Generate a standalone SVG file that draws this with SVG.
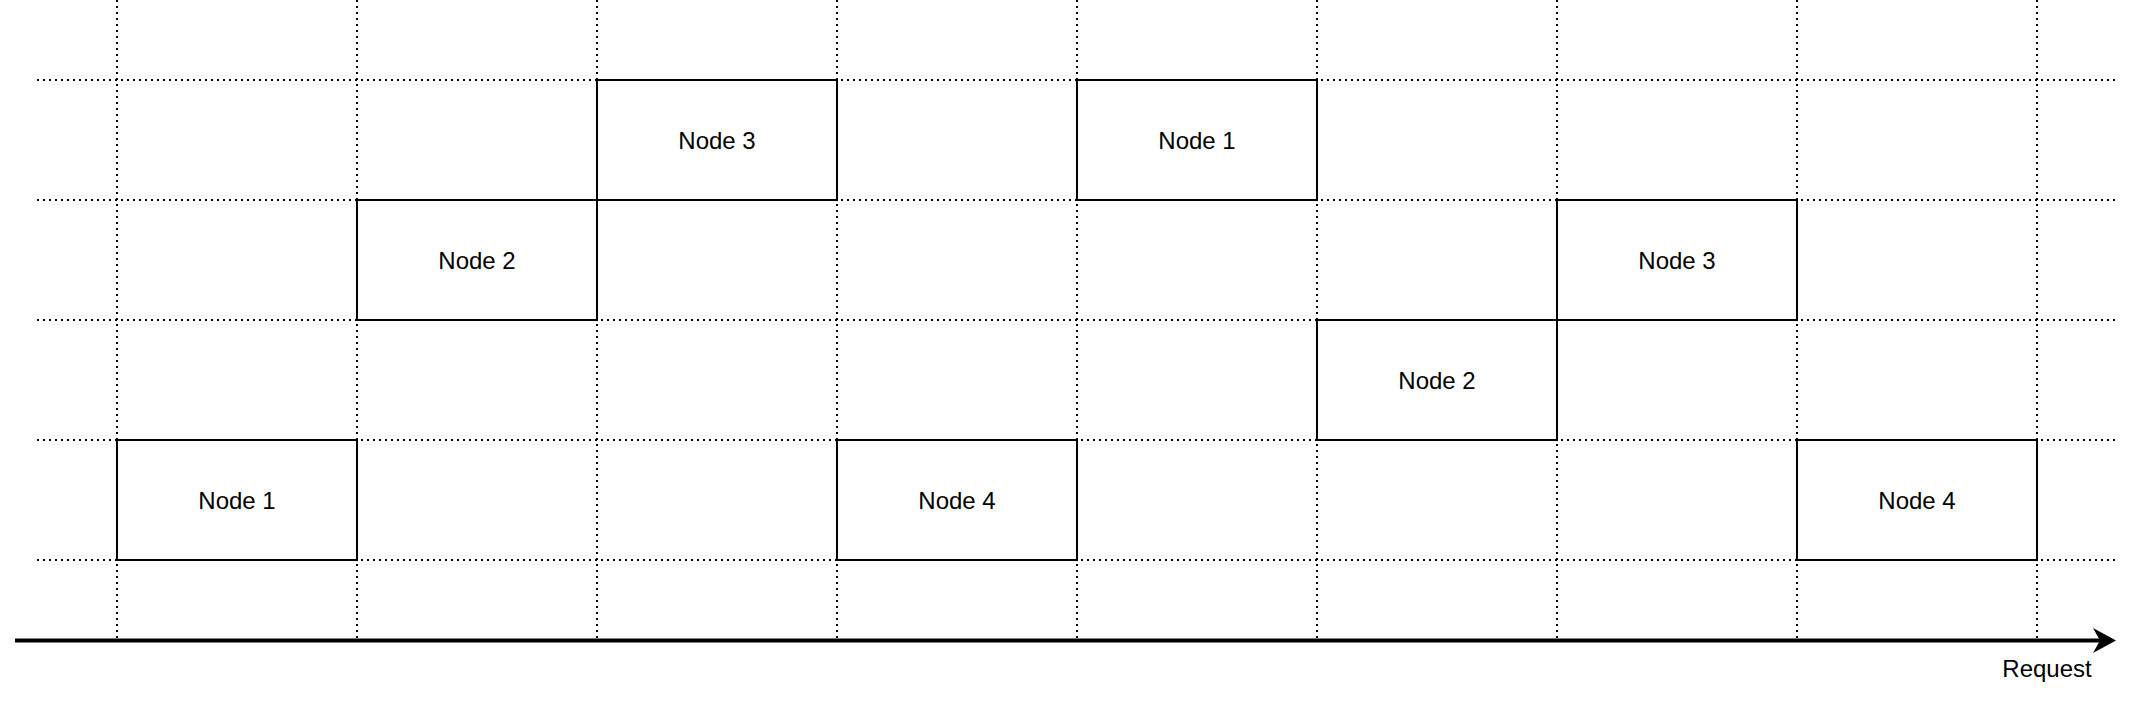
<svg xmlns="http://www.w3.org/2000/svg" width="2136" height="702" viewBox="0 0 2136 702">
<style>
.grid{stroke:#000;stroke-width:2;stroke-dasharray:2 4;fill:none}
.box{fill:#fff;stroke:#000;stroke-width:2}
.lbl{font-family:"Liberation Sans",Arial,sans-serif;font-size:24px;fill:#000;text-anchor:middle}
</style>
<defs>
<marker id="arr" markerUnits="userSpaceOnUse" markerWidth="30" markerHeight="30" refX="8" refY="12.5" orient="auto" viewBox="0 0 30 30">
<path d="M0,0 L23,12.5 L0,25 L7,12.5 Z" fill="#000"/>
</marker>
</defs>
<g id="grid">
<line class="grid" x1="117" y1="0" x2="117" y2="640"/>
<line class="grid" x1="357" y1="0" x2="357" y2="640"/>
<line class="grid" x1="597" y1="0" x2="597" y2="640"/>
<line class="grid" x1="837" y1="0" x2="837" y2="640"/>
<line class="grid" x1="1077" y1="0" x2="1077" y2="640"/>
<line class="grid" x1="1317" y1="0" x2="1317" y2="640"/>
<line class="grid" x1="1557" y1="0" x2="1557" y2="640"/>
<line class="grid" x1="1797" y1="0" x2="1797" y2="640"/>
<line class="grid" x1="2037" y1="0" x2="2037" y2="640"/>
<line class="grid" x1="37" y1="80" x2="2115" y2="80"/>
<line class="grid" x1="37" y1="200" x2="2115" y2="200"/>
<line class="grid" x1="37" y1="320" x2="2115" y2="320"/>
<line class="grid" x1="37" y1="440" x2="2115" y2="440"/>
<line class="grid" x1="37" y1="560" x2="2115" y2="560"/>
</g>
<g id="connectors">
<line x1="15" y1="640.5" x2="2101" y2="640.5" stroke="#000" stroke-width="4" marker-end="url(#arr)"/>
<text class="lbl" x="2047" y="677">Request</text>
</g>
<g id="n1a"><rect class="box" x="117" y="440" width="240" height="120"/><text class="lbl" x="237" y="508.5">Node 1</text></g>
<g id="n2a"><rect class="box" x="357" y="200" width="240" height="120"/><text class="lbl" x="477" y="268.5">Node 2</text></g>
<g id="n3a"><rect class="box" x="597" y="80" width="240" height="120"/><text class="lbl" x="717" y="148.5">Node 3</text></g>
<g id="n4a"><rect class="box" x="837" y="440" width="240" height="120"/><text class="lbl" x="957" y="508.5">Node 4</text></g>
<g id="n1b"><rect class="box" x="1077" y="80" width="240" height="120"/><text class="lbl" x="1197" y="148.5">Node 1</text></g>
<g id="n2b"><rect class="box" x="1317" y="320" width="240" height="120"/><text class="lbl" x="1437" y="388.5">Node 2</text></g>
<g id="n3b"><rect class="box" x="1557" y="200" width="240" height="120"/><text class="lbl" x="1677" y="268.5">Node 3</text></g>
<g id="n4b"><rect class="box" x="1797" y="440" width="240" height="120"/><text class="lbl" x="1917" y="508.5">Node 4</text></g>
</svg>
